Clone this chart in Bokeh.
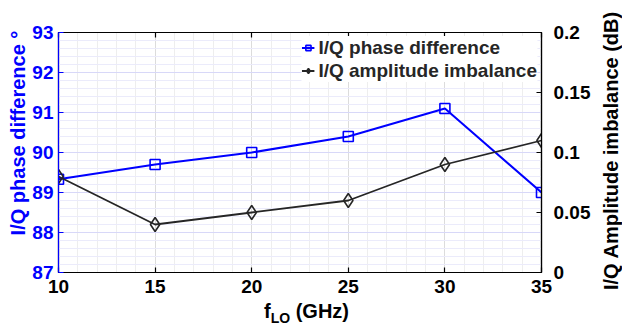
from bokeh.plotting import figure
from bokeh.layouts import column, row
from bokeh.models import (LinearAxis, Range1d, SingleIntervalTicker, FixedTicker,
                          CustomJSTickFormatter, Legend, LegendItem, Grid, Div)
from bokeh.embed import file_html
from bokeh.resources import INLINE

# data
freq = [10, 15, 20, 25, 30, 35]
phase = [89.33, 89.7, 90.0, 90.4, 91.1, 89.0]
amp = [0.08, 0.04, 0.05, 0.06, 0.09, 0.11]
right_ticks = [0, 0.05, 0.1, 0.15, 0.2]

FONT = "Liberation Sans"
BLUE = "#0000ff"
DARK = "#262626"

p = figure(width=600, height=300, output_backend="svg", toolbar_location=None,
           x_range=Range1d(10, 35), y_range=Range1d(87, 93),
           min_border_left=58, min_border_right=59, min_border_top=32,
           min_border_bottom=28, x_axis_location=None, y_axis_location=None,
           margin=0)
p.title.visible = False
p.extra_y_ranges = {"amp": Range1d(0, 0.2)}
p.outline_line_color = "black"
p.outline_line_width = 1.2
p.background_fill_color = "white"
p.border_fill_color = "white"

xt = SingleIntervalTicker(interval=5, num_minor_ticks=5)
yt = SingleIntervalTicker(interval=1, num_minor_ticks=5)

def style_axis(ax, color):
    ax.major_tick_in = 5
    ax.major_tick_out = 0
    ax.minor_tick_in = 0
    ax.minor_tick_out = 0
    ax.axis_line_color = color
    ax.axis_line_width = 1.2
    ax.major_tick_line_color = color
    ax.major_tick_line_width = 1.2
    ax.major_label_text_font = FONT
    ax.major_label_text_font_style = "bold"
    ax.major_label_text_font_size = "19px"
    ax.major_label_text_color = color
    ax.axis_label_text_font = FONT
    ax.axis_label_text_font_style = "bold"
    ax.axis_label_text_font_size = "20px"
    ax.axis_label_text_color = color

bottom = LinearAxis(ticker=xt)
style_axis(bottom, "black")
bottom.major_label_standoff = 7
p.add_layout(bottom, "below")

top = LinearAxis(ticker=xt)
style_axis(top, "black")
top.major_label_text_color = None
top.major_label_text_font_size = "1px"
p.add_layout(top, "above")

left = LinearAxis(ticker=yt)
style_axis(left, BLUE)
left.major_label_standoff = 5
left.axis_label = "\u00a0" * 7 + "I/Q phase difference \u00b0"
left.axis_label_standoff = 0
p.add_layout(left, "left")

right = LinearAxis(y_range_name="amp", ticker=FixedTicker(ticks=right_ticks),
                   formatter=CustomJSTickFormatter(code="return String(Math.round(tick*100)/100);"))
style_axis(right, "black")
right.major_label_standoff = 12
p.add_layout(right, "right")

# grids
gx = Grid(dimension=0, ticker=xt, grid_line_color="#dcdcdc", grid_line_width=1,
          minor_grid_line_color="#eeeeee", minor_grid_line_width=1)
gy = Grid(dimension=1, ticker=yt, grid_line_color="#d8d8f8", grid_line_width=1,
          minor_grid_line_color="#ebebfb", minor_grid_line_width=1)
p.add_layout(gx)
p.add_layout(gy)

# series
l1 = p.line(freq, phase, line_color=BLUE, line_width=2)
m1 = p.scatter(freq, phase, marker="square", size=10, line_color=BLUE,
               fill_color=None, line_width=1.6)
l2 = p.line(freq, amp, y_range_name="amp", line_color=DARK, line_width=1.8)
m2 = p.scatter(freq, amp, y_range_name="amp", marker="diamond", size=14,
               line_color=DARK, fill_color=None, line_width=1.6)

legend = Legend(items=[LegendItem(label="I/Q phase difference", renderers=[l1, m1]),
                       LegendItem(label="I/Q amplitude imbalance", renderers=[l2, m2])],
                location="top_right", margin=4, padding=2, spacing=0,
                glyph_width=13, glyph_height=13, label_height=23, label_standoff=4,
                label_text_font=FONT, label_text_font_style="bold",
                label_text_font_size="19px", label_text_color=DARK,
                background_fill_color="white", background_fill_alpha=1,
                border_line_color=None)
p.add_layout(legend)

# x-axis title (with subscript) and right-axis title as HTML text
x_title = ("<div style=\"font-family:'Liberation Sans';font-weight:bold;font-size:20px;"
           "line-height:20px;padding-left:264px;padding-top:1px;color:black;white-space:nowrap;\">"
           "f<span style=\"font-size:14px;vertical-align:-5px;\">LO</span> (GHz)</div>")
xdiv = Div(text=x_title, width=600, height=28, margin=0)

r_title = ("<div style=\"width:22px;height:302px;writing-mode:vertical-rl;transform:rotate(180deg);"
           "text-align:center;font-family:'Liberation Sans';font-weight:bold;font-size:20px;"
           "line-height:22px;color:black;white-space:nowrap;\">I/Q Amplitude imbalance (dB)</div>")
rdiv = Div(text=r_title, width=22, height=328, margin=0)

layout = row(column(p, xdiv, spacing=0, margin=0), rdiv, spacing=0, margin=0)
open("out.html", "w").write(file_html(layout, INLINE))
